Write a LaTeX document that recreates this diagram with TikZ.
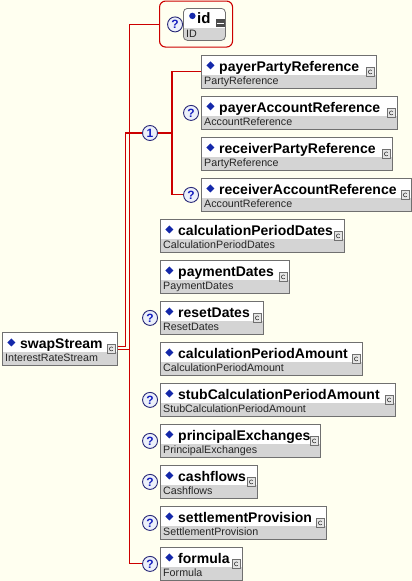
\documentclass[tikz,border=0pt]{standalone}
\usepackage{fontspec}
\setmainfont{Liberation Sans}
\usepackage{xcolor}
\usepackage{tikz}
\usetikzlibrary{positioning}

\definecolor{paper}{RGB}{255,255,240}
\definecolor{wire}{RGB}{204,0,0}
\definecolor{frame}{RGB}{112,112,112}
\definecolor{band}{RGB}{212,212,212}
\definecolor{bullet}{RGB}{20,40,170}
\definecolor{qring}{RGB}{40,40,120}
\definecolor{qfill}{RGB}{236,240,250}
\definecolor{qmark}{RGB}{20,30,190}

\begin{document}
\begin{tikzpicture}[
  x=1pt,y=-1pt,
  ename/.style={anchor=base west, inner sep=0pt, font=\fontsize{14}{16}\selectfont\bfseries},
  etype/.style={anchor=base west, inner sep=0pt, font=\fontsize{10.7}{12}\selectfont, text=black!85},
  texts/.style 2 args={append after command={\pgfextra{\let\mainnode=\tikzlastnode}
      node[ename] (\mainnode-name) at ([xshift=18pt,yshift=-16pt]\mainnode.north west) {#1}
      node[etype] (\mainnode-type) at ([xshift=3pt,yshift=4pt]\mainnode.south west) {#2}}},
  elem/.style 2 args={draw=frame, line width=0.8pt, fill=white, anchor=north west, inner sep=0pt, minimum height=33pt,
    path picture={
      \fill[band] ([yshift=13pt]path picture bounding box.south west) rectangle (path picture bounding box.south east);
      \fill[bullet] ([xshift=9pt,yshift=-10pt]path picture bounding box.north west) +(-4pt,0pt) -- +(0pt,4pt) -- +(4pt,0pt) -- +(0pt,-4pt) -- cycle;
      \draw[frame, line width=0.6pt, fill=band!60!white] ([xshift=-10pt,yshift=-12pt]path picture bounding box.north east) rectangle ([xshift=-2pt,yshift=-21pt]path picture bounding box.north east);
      \draw[black!75, line width=0.6pt] ([xshift=-4.6pt,yshift=-15.1pt]path picture bounding box.north east) arc[start angle=45, end angle=315, radius=2pt];
    },
    texts={#1}{#2}},
  idbox/.style 2 args={draw=frame, line width=0.8pt, fill=white, rounded corners=4pt, anchor=north west, inner sep=0pt, minimum width=42pt, minimum height=32pt,
    path picture={
      \fill[band, sharp corners] ([yshift=12pt]path picture bounding box.south west) rectangle (path picture bounding box.south east);
      \fill[bullet] ([xshift=9pt,yshift=-7.5pt]path picture bounding box.north west) circle[radius=3.2pt];
      \fill[black!70, sharp corners] ([xshift=-9pt,yshift=-11pt]path picture bounding box.north east) rectangle ([yshift=-19pt]path picture bounding box.north east);
      \draw[white, line width=1pt] ([xshift=-8pt,yshift=-15pt]path picture bounding box.north east) -- ([xshift=-1pt,yshift=-15pt]path picture bounding box.north east);
    },
    append after command={\pgfextra{\let\mainnode=\tikzlastnode}
      node[ename, font=\fontsize{15}{16}\selectfont\bfseries] (\mainnode-name) at ([xshift=14pt,yshift=-15pt]\mainnode.north west) {#1}
      node[etype] (\mainnode-type) at ([xshift=3pt,yshift=3.5pt]\mainnode.south west) {#2}}},
  qmark/.style={circle, draw=qring, fill=qfill, line width=0.9pt, minimum size=15pt, inner sep=0pt, text=qmark, font=\fontsize{12}{12}\selectfont\bfseries},
  idframe/.style={draw=wire, line width=1.1pt, rounded corners=6pt, anchor=north west, inner sep=0pt},
  link/.style={draw=wire, line width=1.1pt}
]
\fill[paper] (0,0) rectangle (412,581);
\useasboundingbox (0,0) rectangle (412,581);

% Root element and the optional id.
\node[elem={swapStream}{InterestRateStream}, minimum width=115pt] (swap) at (2,332) {};
\node[idframe, minimum width=73pt, minimum height=46pt] (idgrp) at (159,0.5) {};
\node[idbox={id}{ID}] (id) at (183,8) {};
\node[qmark, left=0pt of id] (q-id) {?};

% Choice of party and account references.
\node[qmark] (one) at (150,133) {1};
\node[elem={payerPartyReference}{PartyReference}, minimum width=175pt] (payerParty) at (201,55) {};
\node[elem={payerAccountReference}{AccountReference}, minimum width=196pt] (payerAcct) at (201,96) {};
\node[elem={receiverPartyReference}{PartyReference}, minimum width=191pt] (rcvParty) at (201,137) {};
\node[elem={receiverAccountReference}{AccountReference}, minimum width=210pt] (rcvAcct) at (201,178) {};
\node[qmark, left=2pt of payerAcct] (q-payAcct) {?};
\node[qmark, left=2pt of rcvAcct] (q-rcvAcct) {?};

% Remaining sequence members.
\node[elem={calculationPeriodDates}{CalculationPeriodDates}, minimum width=184pt] (calcDates) at (160,219) {};
\node[elem={paymentDates}{PaymentDates}, minimum width=129pt] (payDates) at (160,260) {};
\node[elem={resetDates}{ResetDates}, minimum width=103pt] (resetDates) at (160,301) {};
\node[elem={calculationPeriodAmount}{CalculationPeriodAmount}, minimum width=202pt] (calcAmount) at (160,342) {};
\node[elem={stubCalculationPeriodAmount}{StubCalculationPeriodAmount}, minimum width=235pt] (stubAmount) at (160,383) {};
\node[elem={principalExchanges}{PrincipalExchanges}, minimum width=160pt] (princEx) at (160,424) {};
\node[elem={cashflows}{Cashflows}, minimum width=97pt] (cashflows) at (160,465) {};
\node[elem={settlementProvision}{SettlementProvision}, minimum width=166pt] (settle) at (160,506) {};
\node[elem={formula}{Formula}, minimum width=82pt] (formula) at (160,547) {};
\node[qmark, left=2pt of resetDates] (q-reset) {?};
\node[qmark, left=2pt of stubAmount] (q-stub) {?};
\node[qmark, left=2pt of princEx] (q-princ) {?};
\node[qmark, left=2pt of cashflows] (q-cash) {?};
\node[qmark, left=2pt of settle] (q-settle) {?};
\node[qmark, left=2pt of formula] (q-form) {?};

% Connectors.
\coordinate (seq) at ([xshift=11.5pt,yshift=-1pt]swap.east);
\coordinate (chc) at ([xshift=14pt]one.east);
\draw[link] ([yshift=-1pt]swap.east) -- (seq);
\draw[link] (idgrp.west) -| (seq) |- (q-form.west);
\draw[link] ([yshift=2pt]swap.east) -- ++(7.5,0) |- (one.west);
\draw[link] (one.east) -- (chc);
\draw[link] (payerParty.west) -| (chc) |- (q-rcvAcct.west);
\end{tikzpicture}
\end{document}
